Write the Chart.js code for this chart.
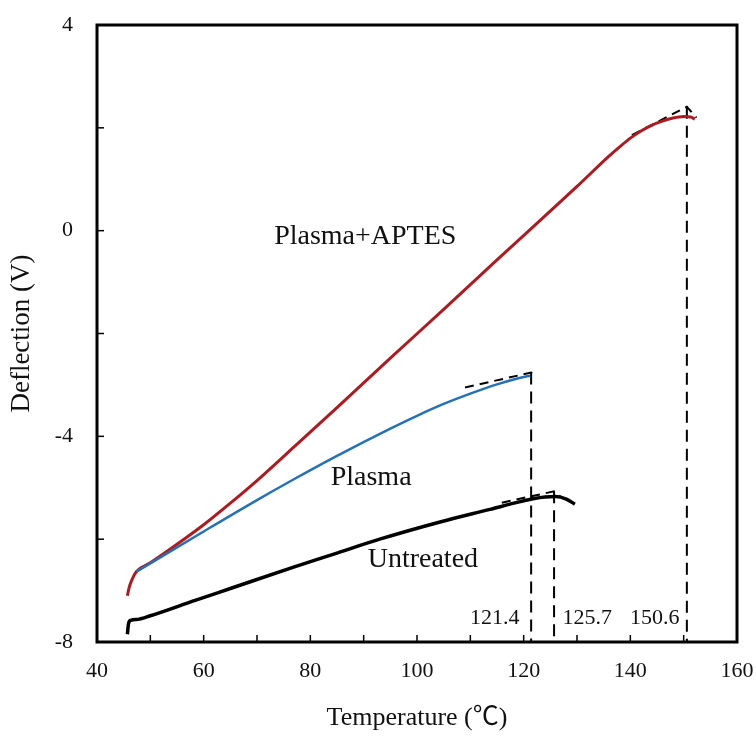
<!DOCTYPE html>
<html>
<head>
  <meta charset="UTF-8">
  <title>Deflection vs Temperature</title>
  <script src="https://cdn.jsdelivr.net/npm/chart.js"></script>
  <style>
    body {
      margin: 0;
      background: #fff;
    }
    #wrap {
      width: 756px;
      height: 737px;
    }
  </style>
</head>
<body>

  <div id="wrap">
    <canvas id="chart" width="756" height="737"></canvas>
  </div>

  <script>
    // Plasma+APTES curve (red)
    const aptesT = [45.7, 46.0, 46.5, 47.4, 50, 55, 60, 65, 70, 77, 85, 95, 105, 115, 121, 130, 136, 138, 140, 142, 144, 146, 148, 150, 151.3, 152.1];
    const aptesV = [-7.1, -6.95, -6.8, -6.63, -6.46, -6.1, -5.72, -5.3, -4.86, -4.2, -3.44, -2.48, -1.53, -0.57, 0.0, 0.86, 1.45, 1.63, 1.8, 1.94, 2.05, 2.13, 2.19, 2.22, 2.21, 2.17];

    // Plasma curve (blue)
    const plasmaT = [47.4, 50, 60, 70, 77, 85, 95, 100, 105, 110, 115, 119, 121.2];
    const plasmaV = [-6.63, -6.47, -5.85, -5.24, -4.83, -4.38, -3.85, -3.6, -3.37, -3.17, -2.99, -2.87, -2.82];

    // Untreated curve (black)
    const untreatedT = [45.7, 45.9, 46.3, 47.7, 50, 58.4, 65, 77, 85, 93, 104.5, 113.7, 119, 122, 124, 126, 128, 129.6];
    const untreatedV = [-7.85, -7.65, -7.58, -7.56, -7.49, -7.19, -6.96, -6.54, -6.27, -6.0, -5.66, -5.42, -5.28, -5.21, -5.18, -5.17, -5.22, -5.32];

    // dashed tangent constructions
    const aptesTanT = [140.3, 150.6, 152.4];
    const aptesTanV = [1.86, 2.41, 2.2];
    const plasmaTanT = [109, 121.4, 122.5];
    const plasmaTanV = [-3.05, -2.76, -2.81];
    const untreatedTanT = [115.9, 125.7, 127];
    const untreatedTanV = [-5.29, -5.07, -5.18];

    // transition temperatures (vertical dashed lines)
    const peakT = [121.4, 125.7, 150.6];
    const peakV = [-2.76, -5.07, 2.41];

    // text on the plot
    const noteText = ['Plasma+APTES', 'Plasma', 'Untreated', '121.4', '125.7', '150.6'];
    const noteX = [90.3, 91.4, 101.1, 114.6, 131.9, 144.6];
    const noteY = [-0.12, -4.81, -6.4, -7.53, -7.53, -7.53];
    const noteSize = [28, 28, 28, 22, 22, 22];

    const serif = '"Liberation Serif", "Times New Roman", "Noto Sans CJK SC", serif';

    function toPoints(xs, ys) {
      return xs.map((x, i) => ({ x: x, y: ys[i] }));
    }

    const datasets = [
      { data: toPoints(untreatedT, untreatedV), borderColor: '#000000', borderWidth: 3.5 },
      { data: toPoints(plasmaT, plasmaV), borderColor: '#2272b8', borderWidth: 2.5 },
      { data: toPoints(aptesT, aptesV), borderColor: '#b01a1f', borderWidth: 3 },
      { data: toPoints(aptesTanT, aptesTanV), borderColor: '#000', borderWidth: 2, borderDash: [9, 6], cubicInterpolationMode: 'default', tension: 0 },
      { data: toPoints(plasmaTanT, plasmaTanV), borderColor: '#000', borderWidth: 2, borderDash: [9, 6], cubicInterpolationMode: 'default', tension: 0 },
      { data: toPoints(untreatedTanT, untreatedTanV), borderColor: '#000', borderWidth: 2, borderDash: [9, 6], cubicInterpolationMode: 'default', tension: 0 }
    ];
    peakT.forEach((t, i) => {
      datasets.push({
        data: [{ x: t, y: peakV[i] }, { x: t, y: -8 }],
        borderColor: '#000', borderWidth: 2, borderDash: [12, 7],
        cubicInterpolationMode: 'default', tension: 0
      });
    });

    // frame, inward ticks and text labels
    const decor = {
      id: 'decor',
      afterDatasetsDraw(chart) {
        const ctx = chart.ctx;
        const a = chart.chartArea;
        const xs = chart.scales.x, ys = chart.scales.y;
        ctx.save();
        ctx.strokeStyle = '#000';
        ctx.lineWidth = 1.5;
        for (let t = 50; t < 160; t += 10) {
          const px = xs.getPixelForValue(t);
          ctx.beginPath(); ctx.moveTo(px, a.bottom); ctx.lineTo(px, a.bottom - 7); ctx.stroke();
        }
        for (let v = -6; v < 4; v += 2) {
          const py = ys.getPixelForValue(v);
          ctx.beginPath(); ctx.moveTo(a.left, py); ctx.lineTo(a.left + 7, py); ctx.stroke();
        }
        ctx.lineWidth = 3;
        ctx.strokeRect(a.left, a.top, a.right - a.left, a.bottom - a.top);

        ctx.fillStyle = '#111';
        ctx.textAlign = 'center';
        ctx.textBaseline = 'middle';
        noteText.forEach((txt, i) => {
          ctx.font = noteSize[i] + 'px ' + serif;
          ctx.fillText(txt, xs.getPixelForValue(noteX[i]), ys.getPixelForValue(noteY[i]));
        });
        ctx.restore();
      }
    };

    new Chart(document.getElementById('chart').getContext('2d'), {
      type: 'scatter',
      data: { datasets: datasets },
      options: {
        responsive: false,
        animation: false,
        showLine: true,
        layout: { padding: { left: 0, top: 25, right: 19, bottom: 0 } },
        elements: {
          point: { radius: 0 },
          line: { cubicInterpolationMode: 'monotone', fill: false }
        },
        plugins: {
          legend: { display: false },
          tooltip: { enabled: false }
        },
        scales: {
          x: {
            type: 'linear',
            min: 40,
            max: 160,
            grid: { display: false, drawTicks: false },
            border: { display: false },
            ticks: {
              stepSize: 10,
              padding: 16,
              color: '#111',
              font: { family: serif, size: 22 },
              maxRotation: 0,
              autoSkip: false,
              callback: v => (v % 20 === 0 ? v : '')
            },
            title: {
              display: true,
              text: 'Temperature (℃)',
              color: '#111',
              font: { family: serif, size: 26 },
              padding: { top: 0, bottom: 3 }
            },
            afterFit: s => {
              s.height = 95;
              s.paddingLeft = 0;
              s.paddingRight = 0;
            }
          },
          y: {
            type: 'linear',
            min: -8,
            max: 4,
            grid: { display: false, drawTicks: false },
            border: { display: false },
            ticks: {
              stepSize: 2,
              padding: 24,
              color: '#111',
              font: { family: serif, size: 22 },
              autoSkip: false,
              callback: v => (v % 4 === 0 ? v : '')
            },
            title: {
              display: true,
              text: 'Deflection (V)',
              color: '#111',
              font: { family: serif, size: 27 },
              padding: { top: 6, bottom: 0 }
            },
            afterFit: s => {
              s.width = 97;
              s.paddingTop = 0;
              s.paddingBottom = 0;
            }
          }
        }
      },
      plugins: [decor]
    });
  </script>
</body>
</html>
